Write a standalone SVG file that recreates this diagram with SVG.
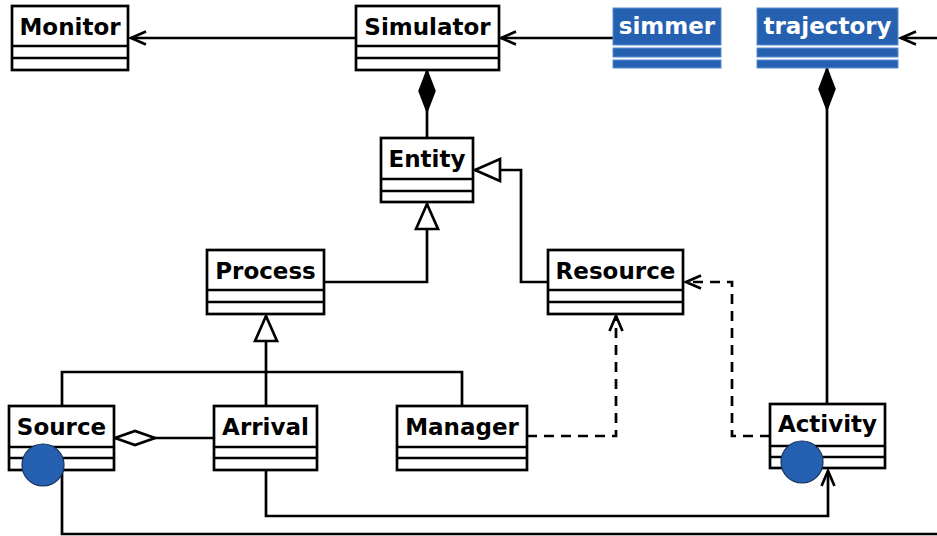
<svg xmlns="http://www.w3.org/2000/svg" width="937" height="536" viewBox="0 0 937 536">
<style>
.box{fill:#fff;stroke:#000;stroke-width:2.7}
.div{stroke:#000;stroke-width:2.7}
.lbl{font-family:"DejaVu Sans",sans-serif;font-weight:bold;font-size:23px;text-anchor:middle;fill:#000}
.wlbl{font-family:"DejaVu Sans",sans-serif;font-weight:bold;font-size:23px;text-anchor:middle;fill:#fff}
.blue{fill:#2561b0;stroke:#5a8ed4;stroke-width:1}
.dot{fill:#2561b0;stroke:#15325c;stroke-width:1.2}
.c{fill:none;stroke:#000;stroke-width:2.7}
.d{stroke-dasharray:10 7}
</style>
<defs>
<marker id="open" markerUnits="userSpaceOnUse" viewBox="-20 -10 24 20" refX="0" refY="0" markerWidth="24" markerHeight="20" orient="auto" overflow="visible">
<path d="M-15,-6.5 L0,0 L-15,6.5" fill="none" stroke="#000" stroke-width="2.7"/>
</marker>
<marker id="tri" markerUnits="userSpaceOnUse" viewBox="-30 -14 34 28" refX="0" refY="0" markerWidth="34" markerHeight="28" orient="auto" overflow="visible">
<path d="M-25,-11 L0,0 L-25,11 Z" fill="#fff" stroke="#000" stroke-width="2.7"/>
</marker>
<marker id="fdia" markerUnits="userSpaceOnUse" viewBox="-46 -12 50 24" refX="0" refY="0" markerWidth="50" markerHeight="24" orient="auto" overflow="visible">
<path d="M0,0 L-21,-8 L-42,0 L-21,8 Z" fill="#000" stroke="#000" stroke-width="1.5"/>
</marker>
<marker id="hdia" markerUnits="userSpaceOnUse" viewBox="-46 -12 50 24" refX="0" refY="0" markerWidth="50" markerHeight="24" orient="auto" overflow="visible">
<path d="M0,0 L-20,-7 L-40,0 L-20,7 Z" fill="#fff" stroke="#000" stroke-width="2.7"/>
</marker>
</defs>
<rect width="937" height="536" fill="#fff"/>
<g id="connectors">
<path class="c" d="M356,38 L131,38" marker-end="url(#open)"/>
<path class="c" d="M613,38 L501,38" marker-end="url(#open)"/>
<path class="c" d="M937,38 L901,38" marker-end="url(#open)"/>
<path class="c" d="M427,138 L427,70" marker-end="url(#fdia)"/>
<path class="c" d="M827,404 L827,68" marker-end="url(#fdia)"/>
<path class="c" d="M548,282 L521,282 L521,170 L475,170" marker-end="url(#tri)"/>
<path class="c" d="M324,282 L427,282 L427,204" marker-end="url(#tri)"/>
<path class="c" d="M62,406 L62,372 L462,372 L462,406"/>
<path class="c" d="M266,406 L266,316" marker-end="url(#tri)"/>
<path class="c" d="M214,438 L115,438" marker-end="url(#hdia)"/>
<path class="c d" d="M527,436 L616,436 L616,316" marker-end="url(#open)"/>
<path class="c d" d="M770,436 L732,436 L732,282 L686,282" marker-end="url(#open)"/>
<path class="c" d="M266,470 L266,516 L828,516 L828,471" marker-end="url(#open)"/>
<path class="c" d="M62,470 L62,534 L937,534"/>
</g>
<g id="Monitor">
<rect class="box" x="12" y="6" width="116" height="64"/>
<line class="div" x1="12" y1="46" x2="128" y2="46"/><line class="div" x1="12" y1="58" x2="128" y2="58"/>
<text class="lbl" x="70" y="35">Monitor</text>
</g>
<g id="Simulator">
<rect class="box" x="356" y="6" width="143" height="64"/>
<line class="div" x1="356" y1="46" x2="499" y2="46"/><line class="div" x1="356" y1="58" x2="499" y2="58"/>
<text class="lbl" x="427.5" y="35">Simulator</text>
</g>
<g id="simmer">
<rect class="blue" x="613" y="8" width="108" height="37"/>
<rect class="blue" x="613" y="48" width="108" height="9"/>
<rect class="blue" x="613" y="60" width="108" height="8"/>
<text class="wlbl" x="667" y="34">simmer</text>
</g>
<g id="trajectory">
<rect class="blue" x="757" y="8" width="141" height="37"/>
<rect class="blue" x="757" y="48" width="141" height="9"/>
<rect class="blue" x="757" y="60" width="141" height="8"/>
<text class="wlbl" x="827.5" y="34">trajectory</text>
</g>
<g id="Entity">
<rect class="box" x="381" y="138" width="92" height="64"/>
<line class="div" x1="381" y1="179" x2="473" y2="179"/><line class="div" x1="381" y1="191" x2="473" y2="191"/>
<text class="lbl" x="427" y="166.5">Entity</text>
</g>
<g id="Process">
<rect class="box" x="207" y="250" width="117" height="64"/>
<line class="div" x1="207" y1="290" x2="324" y2="290"/><line class="div" x1="207" y1="302" x2="324" y2="302"/>
<text class="lbl" x="265.5" y="278.5">Process</text>
</g>
<g id="Resource">
<rect class="box" x="548" y="250" width="135" height="64"/>
<line class="div" x1="548" y1="290" x2="683" y2="290"/><line class="div" x1="548" y1="302" x2="683" y2="302"/>
<text class="lbl" x="615.5" y="278.5">Resource</text>
</g>
<g id="Source">
<rect class="box" x="9" y="406" width="105" height="64"/>
<line class="div" x1="9" y1="447" x2="114" y2="447"/><line class="div" x1="9" y1="458" x2="114" y2="458"/>
<text class="lbl" x="61.5" y="434.5">Source</text>
<circle class="dot" cx="43" cy="465" r="21"/>
</g>
<g id="Arrival">
<rect class="box" x="214" y="406" width="103" height="64"/>
<line class="div" x1="214" y1="447" x2="317" y2="447"/><line class="div" x1="214" y1="458" x2="317" y2="458"/>
<text class="lbl" x="265.5" y="434.5">Arrival</text>
</g>
<g id="Manager">
<rect class="box" x="397" y="406" width="130" height="64"/>
<line class="div" x1="397" y1="447" x2="527" y2="447"/><line class="div" x1="397" y1="458" x2="527" y2="458"/>
<text class="lbl" x="462" y="434.5">Manager</text>
</g>
<g id="Activity">
<rect class="box" x="770" y="404" width="115" height="64"/>
<line class="div" x1="770" y1="446" x2="885" y2="446"/><line class="div" x1="770" y1="457" x2="885" y2="457"/>
<text class="lbl" x="827.5" y="432">Activity</text>
<circle class="dot" cx="802" cy="462" r="21"/>
</g>
</svg>
